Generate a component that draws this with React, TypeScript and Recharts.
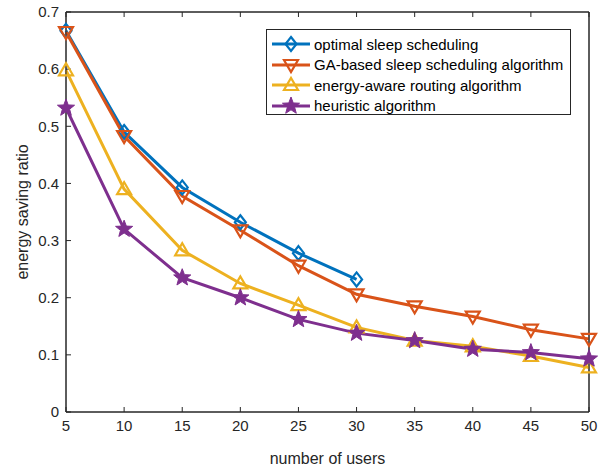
import { LineChart, Line, XAxis, YAxis, Label, ReferenceArea } from "recharts";

const users = [5, 10, 15, 20, 25, 30, 35, 40, 45, 50];
const optimal = [0.667, 0.49, 0.393, 0.332, 0.278, 0.232, null, null, null, null];
const gaBased = [0.665, 0.483, 0.378, 0.318, 0.256, 0.206, 0.185, 0.167, 0.144, 0.128];
const energyAware = [0.598, 0.39, 0.283, 0.225, 0.187, 0.148, 0.125, 0.115, 0.098, 0.078];
const heuristic = [0.532, 0.32, 0.235, 0.2, 0.162, 0.138, 0.125, 0.11, 0.104, 0.093];
const xTicks = [5, 10, 15, 20, 25, 30, 35, 40, 45, 50];
const yTicks = [0, 0.1, 0.2, 0.3, 0.4, 0.5, 0.6, 0.7];

const series = [
  { key: "optimal", name: "optimal sleep scheduling", color: "#0072BD", shape: "diamond" },
  { key: "ga", name: "GA-based sleep scheduling algorithm", color: "#D95319", shape: "down" },
  { key: "energy", name: "energy-aware routing algorithm", color: "#EDB120", shape: "up" },
  { key: "heuristic", name: "heuristic algorithm", color: "#7E2F8E", shape: "star" },
];

const data = users.map((u, i) => ({
  users: u,
  optimal: optimal[i],
  ga: gaBased[i],
  energy: energyAware[i],
  heuristic: heuristic[i],
}));

const FONT = "'Liberation Sans', Arial, Helvetica, sans-serif";
const AXIS = "#262626";

const starPoints = (cx: number, cy: number, R: number, r: number) => {
  const pts: string[] = [];
  for (let i = 0; i < 10; i++) {
    const rad = i % 2 === 0 ? R : r;
    const a = -Math.PI / 2 + (i * Math.PI) / 5;
    pts.push(`${cx + rad * Math.cos(a)},${cy + rad * Math.sin(a)}`);
  }
  return pts.join(" ");
};

const Marker = ({ cx, cy, shape, color }: { cx: number; cy: number; shape: string; color: string }) => {
  if (cx == null || cy == null) return null;
  if (shape === "diamond") {
    return (
      <polygon
        points={`${cx},${cy - 7} ${cx + 5.5},${cy} ${cx},${cy + 7} ${cx - 5.5},${cy}`}
        fill="none"
        stroke={color}
        strokeWidth={2.2}
      />
    );
  }
  if (shape === "down") {
    return (
      <polygon
        points={`${cx - 7},${cy - 5} ${cx + 7},${cy - 5} ${cx},${cy + 7}`}
        fill="none"
        stroke={color}
        strokeWidth={2.2}
      />
    );
  }
  if (shape === "up") {
    return (
      <polygon
        points={`${cx - 7},${cy + 5} ${cx + 7},${cy + 5} ${cx},${cy - 7}`}
        fill="none"
        stroke={color}
        strokeWidth={2.2}
      />
    );
  }
  return <polygon points={starPoints(cx, cy, 9, 3.8)} fill={color} stroke={color} strokeWidth={1} />;
};

const LegendBox = () => (
  <div
    style={{
      position: "absolute",
      left: 266,
      top: 29,
      border: "1px solid #262626",
      background: "#fff",
      width: 305,
      height: 86,
      boxSizing: "border-box",
      paddingTop: 4,
      fontFamily: FONT,
      fontSize: 15,
      color: "#000",
    }}
  >
    {series.map((s) => (
      <div key={s.key} style={{ display: "flex", alignItems: "center", height: 20.5 }}>
        <svg width={42} height={20} style={{ marginLeft: 4 }}>
          <line x1={1} y1={10} x2={39} y2={10} stroke={s.color} strokeWidth={3} />
          <Marker cx={20} cy={10} shape={s.shape} color={s.color} />
        </svg>
        <span style={{ marginLeft: 1 }}>{s.name}</span>
      </div>
    ))}
  </div>
);

export default function App() {
  return (
    <div style={{ position: "absolute", left: 0, top: 0, width: 610, height: 468, background: "#fff" }}>
      <LineChart width={610} height={468} data={data} margin={{ top: 11, right: 20, bottom: 16, left: 26 }}>
        <XAxis
          xAxisId="b"
          dataKey="users"
          type="number"
          domain={[5, 50]}
          ticks={xTicks}
          stroke={AXIS}
          tickSize={-5}
          tickMargin={13}
          tick={{ fill: AXIS, fontSize: 15, fontFamily: FONT }}
          height={40}
        >
          <Label value="number of users" position="bottom" offset={1} style={{ fill: AXIS, fontSize: 16, fontFamily: FONT }} />
        </XAxis>
        <XAxis
          xAxisId="t"
          orientation="top"
          dataKey="users"
          type="number"
          domain={[5, 50]}
          ticks={xTicks}
          stroke={AXIS}
          tickSize={-5}
          tickFormatter={() => ""}
          height={1}
        />
        <YAxis
          yAxisId="l"
          domain={[0, 0.7]}
          ticks={yTicks}
          stroke={AXIS}
          width={40}
          tickSize={-5}
          tickMargin={12}
          tickFormatter={(v: number) => (v === 0 ? "0" : v.toFixed(1))}
          tick={{ fill: AXIS, fontSize: 15, fontFamily: FONT }}
        >
          <Label
            value="energy saving ratio"
            angle={-90}
            position="left"
            offset={4}
            style={{ fill: AXIS, fontSize: 16, fontFamily: FONT, textAnchor: "middle" }}
          />
        </YAxis>
        <YAxis
          yAxisId="r"
          orientation="right"
          domain={[0, 0.7]}
          ticks={yTicks}
          stroke={AXIS}
          width={1}
          tickSize={-5}
          tickFormatter={() => ""}
        />
        <ReferenceArea
          xAxisId="b"
          yAxisId="l"
          x1={5}
          x2={50}
          y1={0}
          y2={0.7}
          fill="none"
          stroke={AXIS}
          strokeWidth={1}
          ifOverflow="visible"
        />
        {series.map((s) => (
          <Line
            key={s.key}
            xAxisId="b"
            yAxisId="l"
            dataKey={s.key}
            name={s.name}
            stroke={s.color}
            strokeWidth={3}
            isAnimationActive={false}
            dot={(p: any) => <Marker key={`${s.key}-${p.index}`} cx={p.cx} cy={p.cy} shape={s.shape} color={s.color} />}
          />
        ))}
      </LineChart>
      <LegendBox />
    </div>
  );
}
